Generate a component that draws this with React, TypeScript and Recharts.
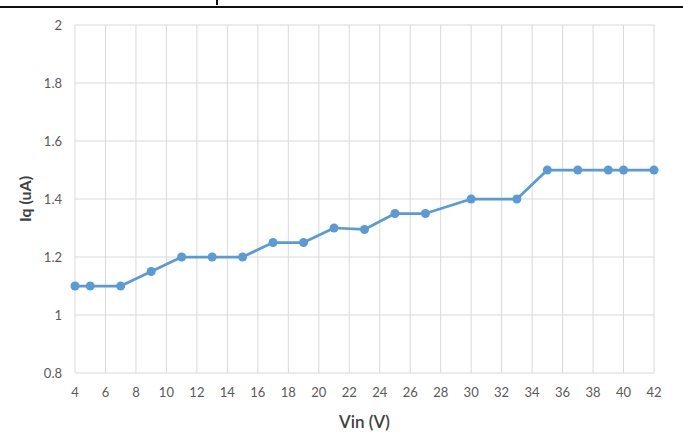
import React from "react";
import { LineChart, Line, XAxis, YAxis, CartesianGrid } from "recharts";

const vin = [4, 5, 7, 9, 11, 13, 15, 17, 19, 21, 23, 25, 27, 30, 33, 35, 37, 39, 40, 42];
const iq = [1.1, 1.1, 1.1, 1.15, 1.2, 1.2, 1.2, 1.25, 1.25, 1.3, 1.295, 1.35, 1.35, 1.4, 1.4, 1.5, 1.5, 1.5, 1.5, 1.5];
const xTicks = [4, 6, 8, 10, 12, 14, 16, 18, 20, 22, 24, 26, 28, 30, 32, 34, 36, 38, 40, 42];
const yTicks = [0.8, 1, 1.2, 1.4, 1.6, 1.8, 2];

const data = vin.map((v, i) => ({ vin: v, iq: iq[i] }));

const blue = "#5b9bd5";
const font = "Lato, 'Open Sans', sans-serif";

export default function App() {
  return (
    <div style={{ position: "absolute", left: 0, top: 0, width: 683, height: 433, background: "#fff" }}>
      <div style={{ position: "absolute", left: 0, top: 6, width: 683, height: 2, background: "#111" }} />
      <div style={{ position: "absolute", left: 216, top: 0, width: 2, height: 5, background: "#111" }} />
      <LineChart width={683} height={433} data={data} margin={{ top: 25, right: 29, bottom: 0, left: 0 }}>
        <CartesianGrid stroke="#d9d9d9" strokeWidth={1} />
        <XAxis
          dataKey="vin"
          type="number"
          domain={[4, 42]}
          ticks={xTicks}
          interval={0}
          height={60}
          axisLine={false}
          tickLine={false}
          tickSize={0}
          tickMargin={15}
          tick={{ fill: "#595959", fontSize: 13, fontFamily: font }}
          label={{ value: "Vin (V)", position: "insideBottom", offset: 5, fill: "#404040", fontSize: 17, fontFamily: font, fontWeight: 600 }}
        />
        <YAxis
          type="number"
          domain={[0.8, 2]}
          ticks={yTicks}
          interval={0}
          width={75}
          axisLine={false}
          tickLine={false}
          tickSize={0}
          tickMargin={13}
          tick={{ fill: "#595959", fontSize: 13, fontFamily: font }}
          label={{ value: "Iq (uA)", angle: -90, position: "insideLeft", offset: 25, fill: "#404040", fontSize: 16, fontFamily: font, fontWeight: 700, style: { textAnchor: "middle" } }}
        />
        <Line
          dataKey="iq"
          type="linear"
          stroke={blue}
          strokeWidth={2.75}
          strokeLinejoin="round"
          dot={{ r: 4.5, fill: blue, stroke: blue, strokeWidth: 0 }}
          activeDot={false}
          isAnimationActive={false}
        />
      </LineChart>
    </div>
  );
}
